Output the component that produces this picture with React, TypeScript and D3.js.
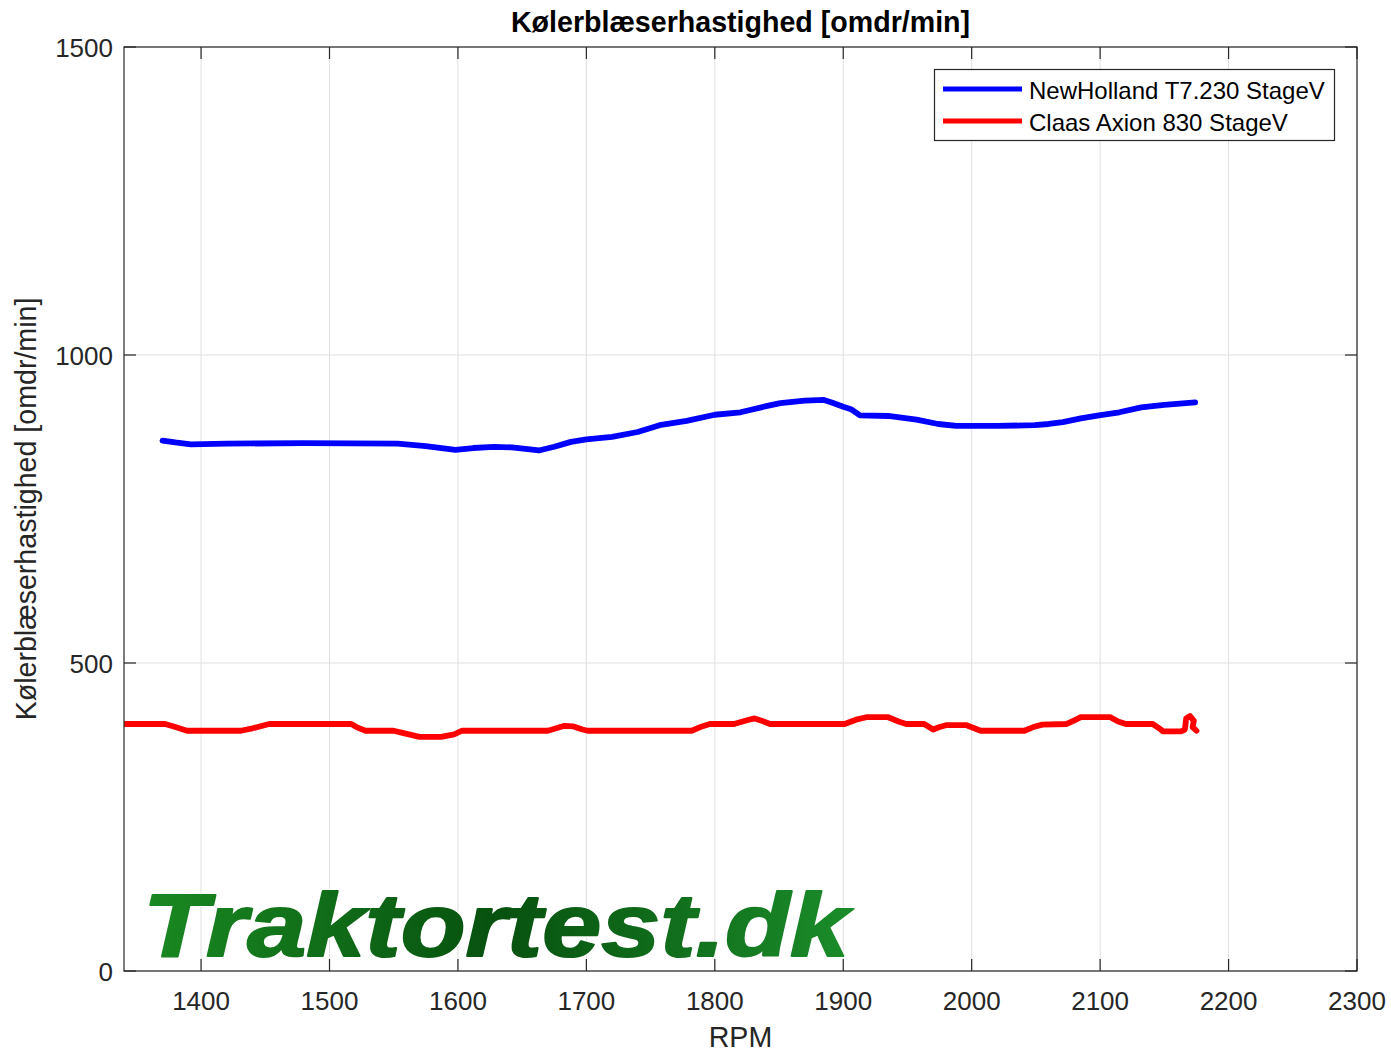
import React from 'react';
import * as d3 from 'd3';

// NewHolland T7.230 StageV
const blueRpm = [1370, 1380, 1392, 1420, 1480, 1553, 1575, 1598, 1612, 1628, 1642, 1663, 1675, 1688, 1700, 1720, 1740, 1757, 1778, 1800, 1820, 1840, 1851, 1870, 1885, 1891, 1900, 1906, 1913, 1935, 1957, 1974, 1988, 2020, 2049, 2060, 2071, 2085, 2099, 2115, 2132, 2150, 2174];
const blueVal = [861, 858, 855, 856, 857, 856, 852, 846, 849, 851, 850, 845, 851, 859, 863, 867, 875, 886, 893, 903, 907, 917, 922, 926, 927, 923, 916, 912, 902, 901, 895, 888, 885, 885, 886, 888, 891, 897, 902, 907, 915, 919, 923];

// Claas Axion 830 StageV
const redRpm = [1340, 1372, 1380, 1389, 1431, 1440, 1453, 1517, 1522, 1528, 1550, 1556, 1570, 1587, 1597, 1603, 1670, 1683, 1690, 1697, 1701, 1782, 1790, 1796, 1815, 1825, 1831, 1837, 1843, 1901, 1910, 1918, 1935, 1943, 1949, 1963, 1970, 1975, 1980, 1996, 2002, 2007, 2041, 2048, 2055, 2074, 2080, 2085, 2108, 2114, 2120, 2141, 2146, 2149, 2163, 2166, 2167, 2170, 2173, 2172, 2175];
const redVal = [401, 401, 396, 390, 390, 394, 401, 401, 395, 390, 390, 387, 380, 380, 384, 390, 390, 398, 397, 392, 390, 390, 397, 401, 401, 407, 410, 406, 401, 401, 408, 412, 412, 405, 401, 401, 392, 396, 399, 399, 394, 390, 390, 396, 400, 401, 407, 412, 412, 405, 401, 401, 394, 389, 389, 392, 410, 414, 406, 396, 390];

const xTicks = [1400, 1500, 1600, 1700, 1800, 1900, 2000, 2100, 2200, 2300];
const yTicks = [0, 500, 1000, 1500];

const seriesNames = ['NewHolland T7.230 StageV', 'Claas Axion 830 StageV'];
const seriesColors = ['#0000ff', '#ff0000'];

const W = 1391;
const H = 1054;
const left = 124, right = 1357, top = 47, bottom = 971;
const axisColor = '#262626';
const font = 'Liberation Sans, Arial, Helvetica, sans-serif';

const App: React.FC = () => {
  const x = d3.scaleLinear().domain([1340, 2300]).range([left, right]);
  const y = d3.scaleLinear().domain([0, 1500]).range([bottom, top]);

  const line = d3.line<[number, number]>()
    .x(d => x(d[0]))
    .y(d => y(d[1]));

  const blue = blueRpm.map((r, i) => [r, blueVal[i]] as [number, number]);
  const red = redRpm.map((r, i) => [r, redVal[i]] as [number, number]);
  const tickLen = 12;

  return (
    <svg width={W} height={H} style={{ position: 'absolute', left: 0, top: 0, background: '#fff' }}
      fontFamily={font}>
      <defs>
        <clipPath id="plotclip">
          <rect x={left} y={top} width={right - left} height={bottom - top} />
        </clipPath>
        <linearGradient id="wm" gradientUnits="userSpaceOnUse" x1={140} y1={0} x2={855} y2={0}>
          <stop offset="0" stopColor="#1a8a22" />
          <stop offset="0.5" stopColor="#07510f" />
          <stop offset="1" stopColor="#1b8d2a" />
        </linearGradient>
      </defs>
      <rect x={0} y={0} width={W} height={H} fill="#fff" />

      {/* grid */}
      <g stroke="#dfdfdf" strokeWidth={1}>
        {xTicks.map(t => (
          <line key={'gx' + t} x1={x(t)} x2={x(t)} y1={top} y2={bottom} />
        ))}
        {yTicks.map(t => (
          <line key={'gy' + t} x1={left} x2={right} y1={y(t)} y2={y(t)} />
        ))}
      </g>

      {/* watermark: white halo then gradient text */}
      <g fontSize={89} fontWeight="bold" fontStyle="italic" strokeLinejoin="round">
        <text x={143} y={956} fill="none" stroke="#ffffff" strokeWidth={4}
          textLength={706} lengthAdjust="spacingAndGlyphs">Traktortest.dk</text>
        <text x={143} y={956} fill="url(#wm)" stroke="url(#wm)" strokeWidth={2}
          textLength={706} lengthAdjust="spacingAndGlyphs">Traktortest.dk</text>
      </g>

      {/* series */}
      <g clipPath="url(#plotclip)" fill="none" strokeWidth={5.8} strokeLinecap="round" strokeLinejoin="round">
        <path d={line(blue) || ''} stroke={seriesColors[0]} />
        <path d={line(red) || ''} stroke={seriesColors[1]} />
      </g>

      {/* axes box and ticks */}
      <g stroke={axisColor} strokeWidth={1.2} fill="none">
        <rect x={left} y={top} width={right - left} height={bottom - top} />
        {xTicks.map(t => (
          <g key={'tx' + t}>
            <line x1={x(t)} x2={x(t)} y1={bottom} y2={bottom - tickLen} />
            <line x1={x(t)} x2={x(t)} y1={top} y2={top + tickLen} />
          </g>
        ))}
        {yTicks.map(t => (
          <g key={'ty' + t}>
            <line x1={left} x2={left + tickLen} y1={y(t)} y2={y(t)} />
            <line x1={right} x2={right - tickLen} y1={y(t)} y2={y(t)} />
          </g>
        ))}
      </g>

      {/* tick labels */}
      <g fill={axisColor} fontSize={26}>
        {xTicks.map(t => (
          <text key={'lx' + t} x={x(t)} y={1010} textAnchor="middle">{t}</text>
        ))}
        {yTicks.map(t => (
          <text key={'ly' + t} x={113} y={y(t) + 9.5} textAnchor="end">{t}</text>
        ))}
      </g>

      {/* labels */}
      <text x={(left + right) / 2} y={1047} textAnchor="middle" fontSize={28.6} fill={axisColor}>RPM</text>
      <text transform={`translate(36, ${(top + bottom) / 2}) rotate(-90)`} textAnchor="middle"
        fontSize={28.6} fill={axisColor}>Kølerblæserhastighed [omdr/min]</text>
      <text x={(left + right) / 2} y={32} textAnchor="middle" fontSize={28.6} fontWeight="bold"
        fill="#000">Kølerblæserhastighed [omdr/min]</text>

      {/* legend */}
      <g>
        <rect x={934.5} y={69.5} width={400} height={71} fill="#fff" stroke={axisColor} strokeWidth={1.2} />
        {seriesNames.map((n, i) => (
          <g key={n}>
            <line x1={943} x2={1022} y1={89 + i * 32} y2={89 + i * 32} stroke={seriesColors[i]} strokeWidth={5} />
            <text x={1029} y={99 + i * 32} fontSize={24} fill="#000">{n}</text>
          </g>
        ))}
      </g>
    </svg>
  );
};

export default App;
